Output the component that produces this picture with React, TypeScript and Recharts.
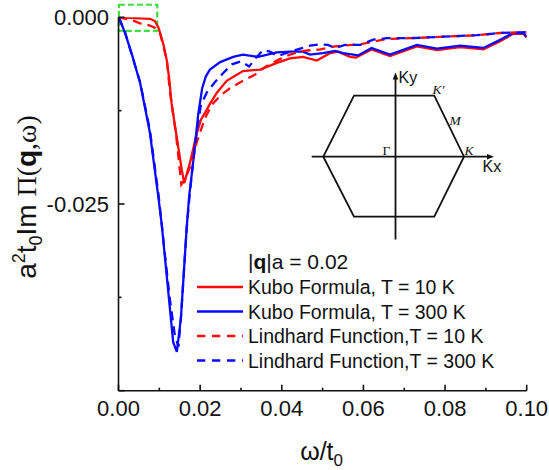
import React from 'react';
import { LineChart, Line, XAxis, YAxis, Legend, ReferenceArea, Customized, Label } from 'recharts';

const FONT = '"Liberation Sans", Arial, Helvetica, sans-serif';
const SERIF = '"Liberation Serif", "Times New Roman", serif';
const INK = '#111111';

// ---- tick values ----
const xTicks = [0, 0.01, 0.02, 0.03, 0.04, 0.05, 0.06, 0.07, 0.08, 0.09, 0.1];
const yTicks = [0, -0.0125, -0.025, -0.0375, -0.05];
const yTickLabels: Record<string, string> = { '0': '0.000', '-0.025': '-0.025' };

// ---- series: Kubo formula, T = 10 K ----
const kubo10Omega = [0, 0.004, 0.0077, 0.0089, 0.0098, 0.0102, 0.011, 0.0118, 0.0124, 0.013, 0.0138, 0.0155, 0.0161, 0.0175, 0.0192, 0.0202, 0.0216, 0.0224, 0.0241, 0.0265, 0.0305, 0.0347, 0.0388, 0.042, 0.0452, 0.0486, 0.0518, 0.0538, 0.0567, 0.0582, 0.062, 0.0665, 0.0731, 0.078, 0.0837, 0.0894, 0.0935, 0.0967, 0.0992, 0.1];
const kubo10Pi = [0, -0.0001, -0.0002, -0.0005, -0.0014, -0.0021, -0.0036, -0.0057, -0.0081, -0.0115, -0.0144, -0.0204, -0.0222, -0.0195, -0.0155, -0.0137, -0.0124, -0.0116, -0.0101, -0.0085, -0.0072, -0.007, -0.0061, -0.0055, -0.0053, -0.0058, -0.0048, -0.0046, -0.0053, -0.0054, -0.0043, -0.0052, -0.0039, -0.0044, -0.004, -0.0043, -0.0032, -0.0022, -0.0022, -0.0027];

// ---- series: Kubo formula, T = 300 K ----
const kubo300Omega = [0, 0.0004, 0.0016, 0.0033, 0.0053, 0.0065, 0.0077, 0.0098, 0.0106, 0.0119, 0.0134, 0.0143, 0.0153, 0.0167, 0.0173, 0.0185, 0.0195, 0.0205, 0.0214, 0.0224, 0.0249, 0.0281, 0.0305, 0.0342, 0.0388, 0.042, 0.0452, 0.0469, 0.0501, 0.0531, 0.055, 0.0575, 0.0587, 0.062, 0.0665, 0.0731, 0.078, 0.0837, 0.0894, 0.0935, 0.0967, 0.0992, 0.1];
const kubo300Pi = [0, -0.0004, -0.0021, -0.005, -0.0088, -0.0121, -0.0155, -0.0242, -0.0278, -0.0351, -0.0435, -0.0448, -0.0402, -0.0282, -0.024, -0.0184, -0.0131, -0.0095, -0.0079, -0.007, -0.006, -0.0053, -0.005, -0.0053, -0.0047, -0.0046, -0.0046, -0.005, -0.0048, -0.0045, -0.0048, -0.005, -0.0051, -0.0041, -0.005, -0.0037, -0.0042, -0.0038, -0.0041, -0.003, -0.0021, -0.0021, -0.0026];

// ---- series: Lindhard function, T = 10 K ----
const lind10Omega = [0, 0.0028, 0.0053, 0.0077, 0.0089, 0.0102, 0.0111, 0.0119, 0.0126, 0.0141, 0.0154, 0.0162, 0.0175, 0.0192, 0.0212, 0.0229, 0.0249, 0.0273, 0.0305, 0.0334, 0.0361, 0.0391, 0.042, 0.0452, 0.0494, 0.0531, 0.0592, 0.0657, 0.0714, 0.0795, 0.0878, 0.0935, 0.1];
const lind10Pi = [0, -0.0003, -0.0008, -0.0011, -0.0014, -0.0022, -0.0041, -0.006, -0.0100, -0.0157, -0.0224, -0.0218, -0.0201, -0.0167, -0.0135, -0.0117, -0.0105, -0.0095, -0.0085, -0.0077, -0.0066, -0.0057, -0.005, -0.0045, -0.0043, -0.0039, -0.0036, -0.0029, -0.0028, -0.0026, -0.0024, -0.0021, -0.002];

// ---- series: Lindhard function, T = 300 K ----
const lind300Omega = [0, 0.0016, 0.0053, 0.0077, 0.0099, 0.0114, 0.0126, 0.0138, 0.0147, 0.0153, 0.0167, 0.0174, 0.0182, 0.0192, 0.0202, 0.0217, 0.0236, 0.0256, 0.0278, 0.03, 0.032, 0.0337, 0.0354, 0.0371, 0.0391, 0.042, 0.0445, 0.0469, 0.0494, 0.0513, 0.0531, 0.0555, 0.0592, 0.0624, 0.0657, 0.0714, 0.0795, 0.0878, 0.0935, 0.1];
const lind300Pi = [0, -0.002, -0.0087, -0.0151, -0.0242, -0.0319, -0.0378, -0.0426, -0.0441, -0.0402, -0.0283, -0.024, -0.0198, -0.0151, -0.0117, -0.01, -0.0087, -0.0075, -0.0063, -0.0059, -0.0066, -0.0054, -0.0044, -0.0046, -0.0052, -0.0046, -0.0042, -0.0038, -0.0036, -0.0037, -0.0041, -0.0037, -0.0037, -0.003, -0.0028, -0.0028, -0.0026, -0.0024, -0.0021, -0.002];

const seriesNames = ['Kubo Formula, T = 10 K', 'Kubo Formula, T = 300 K', 'Lindhard Function,T = 10 K', 'Lindhard Function,T = 300 K'];

const toPoints = (xs: number[], ys: number[]) => xs.map((x, i) => ({ x, y: ys[i] }));

const RED = '#ff0a0a';
const BLUE = '#0a0aff';

const series = [
  { name: seriesNames[0], color: RED, dashed: false, data: toPoints(kubo10Omega, kubo10Pi) },
  { name: seriesNames[1], color: BLUE, dashed: false, data: toPoints(kubo300Omega, kubo300Pi) },
  { name: seriesNames[2], color: RED, dashed: true, data: toPoints(lind10Omega, lind10Pi) },
  { name: seriesNames[3], color: BLUE, dashed: true, data: toPoints(lind300Omega, lind300Pi) },
];

const isMajorX = (v: number) => Math.round(v * 100) % 2 === 0;
const isMajorY = (v: number) => Math.round(Math.abs(v) / 0.0125) % 2 === 0;
const AXIS_W = 1.6;

const BottomTick = (props: any) => {
  const { x, y, payload } = props;
  const v = payload.value;
  const major = isMajorX(v);
  return (
    <g>
      <line x1={x} x2={x} y1={y} y2={y - (major ? 6 : 3)} stroke={INK} strokeWidth={AXIS_W} />
      {major && (
        <text x={x} y={y + 25.3} textAnchor="middle" fontFamily={FONT} fontSize={22} fill={INK}>
          {v.toFixed(2)}
        </text>
      )}
    </g>
  );
};

const TopTick = (props: any) => {
  const { x, y, payload } = props;
  const major = isMajorX(payload.value);
  return <line x1={x} x2={x} y1={y} y2={y + (major ? 6 : 3)} stroke={INK} strokeWidth={AXIS_W} />;
};

const LeftTick = (props: any) => {
  const { x, y, payload } = props;
  const v = payload.value;
  const major = isMajorY(v);
  const lbl = yTickLabels[String(v)];
  return (
    <g>
      <line x1={x} x2={x + (major ? 6 : 3)} y1={y} y2={y} stroke={INK} strokeWidth={AXIS_W} />
      {lbl && (
        <text x={x - 9.5} y={y + 7.9} textAnchor="end" fontFamily={FONT} fontSize={22} fill={INK}>
          {lbl}
        </text>
      )}
    </g>
  );
};

const RightTick = (props: any) => {
  const { x, y, payload } = props;
  const major = isMajorY(payload.value);
  return <line x1={x} x2={x - (major ? 6 : 3)} y1={y} y2={y} stroke={INK} strokeWidth={AXIS_W} />;
};

const XTitle = (props: any) => {
  const vb = props.viewBox ?? { x: 118.5, y: 390.7, width: 408.2, height: 79.3 };
  const cx = vb.x + vb.width / 2 - 1;
  const by = vb.y + 69.3;
  return (
    <text x={cx} y={by} textAnchor="middle" fontFamily={FONT} fontSize={25} fill={INK}>
      ω/t<tspan fontSize={17} dy={6}>0</tspan>
    </text>
  );
};

const YTitle = (props: any) => {
  const vb = props.viewBox ?? { x: 0, y: 17.3, width: 118.5, height: 373.4 };
  const cy = vb.y + vb.height / 2 - 7;
  return (
    <text transform={`translate(36, ${cy}) rotate(-90)`} textAnchor="middle" fontFamily={FONT} fontSize={28} fill={INK}>
      a<tspan fontSize={18} dy={-11}>2</tspan>
      <tspan dy={11}>t</tspan>
      <tspan fontSize={18} dy={6}>0</tspan>
      <tspan dy={-6}>Im </tspan>
      <tspan fontFamily={SERIF}>Π(</tspan>
      <tspan fontWeight="bold">q</tspan>
      <tspan fontFamily={SERIF}>,ω)</tspan>
    </text>
  );
};

const LegendBox = () => (
  <svg width={340} height={130} style={{ display: 'block', overflow: 'visible' }}>
    <text x={58} y={24} fontFamily={FONT} fontSize={21} fill={INK}>
      |<tspan fontWeight="bold">q</tspan>|a = 0.02
    </text>
    {series.map((s, i) => {
      const cy = 42 + i * 24.5;
      return (
        <g key={s.name}>
          <line x1={7} x2={53} y1={cy} y2={cy} stroke={s.color} strokeWidth={2.5} strokeDasharray={s.dashed ? '8.3 6.7' : undefined} />
          <text x={58} y={cy + 7.3} fontFamily={FONT} fontSize={19.5} fill={INK}>
            {s.name}
          </text>
        </g>
      );
    })}
  </svg>
);

const BrillouinZone = () => (
  <g>
    <g stroke={INK} strokeWidth={1.8} fill="none">
      <polygon points="323.3,156.7 354,95.7 434.3,95.7 464,156.7 434.3,216.7 354,216.7" strokeLinejoin="miter" />
      <line x1={311.7} y1={156.7} x2={489} y2={156.7} />
      <line x1={395.5} y1={239.5} x2={395.5} y2={78} />
    </g>
    <path d="M 494 156.7 L 487 153.9 L 487 159.5 Z" fill={INK} />
    <path d="M 395.5 72.5 L 392.7 79.5 L 398.3 79.5 Z" fill={INK} />
    <text x={398.5} y={83} fontFamily={FONT} fontSize={16} fill={INK}>Ky</text>
    <text x={482.5} y={172} fontFamily={FONT} fontSize={16} fill={INK}>Kx</text>
    <text x={432.5} y={94} fontFamily={SERIF} fontStyle="italic" fontSize={13.5} fill={INK}>K′</text>
    <text x={449.5} y={125} fontFamily={SERIF} fontStyle="italic" fontSize={13.5} fill={INK}>M</text>
    <text x={382.5} y={154.5} fontFamily={SERIF} fontSize={13.5} fill={INK}>Γ</text>
    <text x={464.5} y={154.5} fontFamily={SERIF} fontStyle="italic" fontSize={13.5} fill={INK}>K</text>
  </g>
);

export default function App() {
  return (
    <div style={{ position: 'absolute', left: 0, top: 0, width: 549, height: 470, background: '#fff' }}>
      <LineChart width={549} height={470} margin={{ top: 17.3, right: 22.3, bottom: 0, left: 0 }}>
        <XAxis
          xAxisId="b"
          type="number"
          dataKey="x"
          domain={[0, 0.1]}
          ticks={xTicks}
          interval={0}
          allowDataOverflow
          height={79.3}
          tickSize={0}
          tickMargin={0}
          tickLine={false}
          axisLine={{ stroke: INK, strokeWidth: AXIS_W }}
          tick={<BottomTick />}
        >
          <Label content={<XTitle />} />
        </XAxis>
        <XAxis
          xAxisId="t"
          orientation="top"
          type="number"
          dataKey="x"
          domain={[0, 0.1]}
          ticks={xTicks}
          interval={0}
          allowDataOverflow
          height={0}
          tickSize={0}
          tickMargin={0}
          tickLine={false}
          axisLine={{ stroke: INK, strokeWidth: AXIS_W }}
          tick={<TopTick />}
        />
        <YAxis
          yAxisId="l"
          type="number"
          domain={[-0.05, 0]}
          ticks={yTicks}
          interval={0}
          allowDataOverflow
          width={118.5}
          tickSize={0}
          tickMargin={0}
          tickLine={false}
          axisLine={{ stroke: INK, strokeWidth: AXIS_W }}
          tick={<LeftTick />}
        >
          <Label content={<YTitle />} />
        </YAxis>
        <YAxis
          yAxisId="r"
          orientation="right"
          type="number"
          domain={[-0.05, 0]}
          ticks={yTicks}
          interval={0}
          allowDataOverflow
          width={0}
          tickSize={0}
          tickMargin={0}
          tickLine={false}
          axisLine={{ stroke: INK, strokeWidth: AXIS_W }}
          tick={<RightTick />}
        />
        {series.map((s) => (
          <Line
            key={s.name}
            xAxisId="b"
            yAxisId="l"
            data={s.data}
            dataKey="y"
            name={s.name}
            type="linear"
            stroke={s.color}
            strokeWidth={2.3}
            strokeDasharray={s.dashed ? '9 6' : undefined}
            dot={false}
            activeDot={false}
            isAnimationActive={false}
          />
        ))}
        <ReferenceArea
          xAxisId="b"
          yAxisId="l"
          x1={0.0001}
          x2={0.0095}
          y1={-0.00183}
          y2={0.00168}
          ifOverflow="visible"
          fill="none"
          fillOpacity={0}
          stroke="#3ee03e"
          strokeWidth={2.2}
          strokeDasharray="6 3"
        />
        <Customized component={BrillouinZone} />
        <Legend
          layout="vertical"
          align="center"
          verticalAlign="middle"
          content={<LegendBox />}
          wrapperStyle={{ left: 190, top: 245, width: 340, height: 130 }}
        />
      </LineChart>
    </div>
  );
}
